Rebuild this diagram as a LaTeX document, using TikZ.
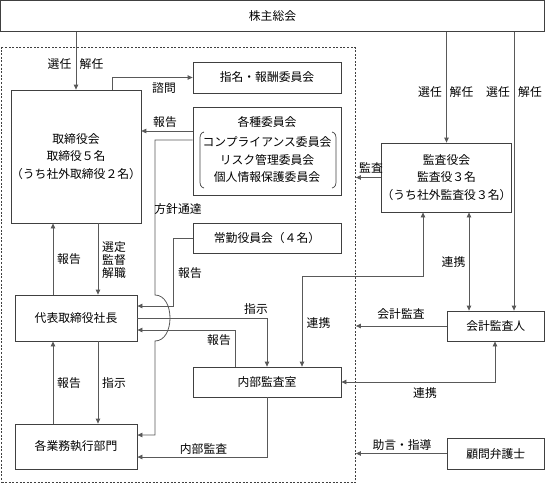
\documentclass[tikz,border=0pt]{standalone}
\usepackage{fontspec}
\setmainfont{Noto Sans CJK JP}
\usetikzlibrary{arrows.meta}
\begin{document}
\begin{tikzpicture}[x=1pt,y=-1pt,
  box/.style={draw=black!75,line width=0.8pt,inner sep=0pt,align=center,font=\fontsize{11.8}{17.5}\selectfont},
  lbl/.style={inner sep=0pt,font=\fontsize{11.8}{14}\selectfont},
  con/.style={draw=black!65,line width=0.8pt},
  tip/.tip={Triangle[length=5pt,width=4.5pt]},
  arr/.style={con,-tip},
  darr/.style={con,tip-tip}]
\useasboundingbox (0,0) rectangle (545,485);
% dashed board region
\node[draw=black!75,line width=0.8pt,dash pattern=on 2pt off 1.6pt,minimum width=354pt,minimum height=435pt,inner sep=0pt] (board) at (178.5,265.3) {};
% boxes
\node[box,minimum width=543.5pt,minimum height=31pt] (kabu) at (272.5,16) {株主総会};
\node[box,minimum width=122pt,minimum height=133pt] (tori) at (76,156.5) {取締役会\\取締役５名\\（うち社外取締役２名）};
\node[box,minimum width=148pt,minimum height=31pt] (shimei) at (267,77.5) {指名・報酬委員会};
\node[box,minimum width=148pt,minimum height=88pt] (kakushu) at (267,151) {};
\node[lbl] (kakushuT) at (267,122) {各種委員会};
\node[lbl] (comp) at (267,142) {コンプライアンス委員会};
\node[lbl] (risk) at (267,160) {リスク管理委員会};
\node[lbl] (kojin) at (267,177.5) {個人情報保護委員会};
\draw[draw=black!75,line width=0.7pt] (204,132) .. controls (200,133) and (200,136) .. (200,140) -- (200,180) .. controls (200,184) and (200,187) .. (204,188);
\draw[draw=black!75,line width=0.7pt] (332,132) .. controls (336,133) and (336,136) .. (336,140) -- (336,180) .. controls (336,184) and (336,187) .. (332,188);
\node[box,minimum width=148pt,minimum height=30pt] (jokin) at (267,238) {常勤役員会（４名）};
\node[box,minimum width=122pt,minimum height=46pt] (daihyo) at (76,318) {代表取締役社長};
\node[box,minimum width=148pt,minimum height=30pt] (naibu) at (267,382) {内部監査室};
\node[box,minimum width=122pt,minimum height=45pt] (gyomu) at (76,446.5) {各業務執行部門};
\node[box,minimum width=121pt,minimum height=69pt] (kansa) at (446.5,177.5) {監査役会\\監査役３名\\（うち社外監査役３名）};
\node[box,minimum width=97.5pt,minimum height=30pt] (kaikei) at (495.75,326) {会計監査人};
\node[box,minimum width=97.5pt,minimum height=31pt] (komon) at (495.75,453.5) {顧問弁護士};
% connectors
\draw[arr] (kabu.south -| tori.north) -- (tori.north);
\draw[arr] ([xshift=36pt]tori.north) |- (shimei.west);
\draw[arr] (kakushu.west |- 0,131) -- (tori.east |- 0,131);
\draw[arr] (kakushu.west |- 0,140) -- (155,140) -- (155,295) .. controls (175,295) and (175,341) .. (155,341) -- (155,435) -- (gyomu.east |- 0,435);
\draw[arr] (jokin.west) -- (173,238) -- (173,306) -- (daihyo.east |- 0,306);
\draw[arr] (daihyo.north -| 53,0) -- (tori.south -| 53,0);
\draw[arr] (tori.south -| 98,0) -- (daihyo.north -| 98,0);
\draw[arr] (gyomu.north -| 53,0) -- (daihyo.south -| 53,0);
\draw[arr] (daihyo.south -| 98,0) -- (gyomu.north -| 98,0);
\draw[arr] (daihyo.east |- 0,318) -| (naibu.north);
\draw[arr] (naibu.north -| 235,0) |- (daihyo.east |- 0,330);
\draw[darr] (naibu.north -| 302,0) |- (423,276) -- (kansa.south -| 423,0);
\draw[arr] (naibu.south) |- (gyomu.east |- 0,457);
\draw[arr] (kabu.south -| kansa.north) -- (kansa.north);
\draw[arr] (kabu.south -| 514,0) -- (kaikei.north -| 514,0);
\draw[arr] (kansa.west) -- (kansa.west -| board.east);
\draw[darr] (kansa.south -| 469,0) -- (kaikei.north -| 469,0);
\draw[arr] (kaikei.west) -- (kaikei.west -| board.east);
\draw[darr] (kaikei.south -| 495,0) |- (naibu.east);
\draw[arr] (komon.west) -- (komon.west -| board.east);
% labels
\node[lbl] (l1) at (59.5,64) {選任};
\node[lbl] (l2) at (91.5,64) {解任};
\node[lbl] (l3) at (164,88.5) {諮問};
\node[lbl] (l4) at (165,122) {報告};
\node[lbl] (l5) at (178,209) {方針通達};
\node[lbl] (l6) at (190,273) {報告};
\node[lbl] (l7) at (69,259) {報告};
\node[lbl,align=center,font=\fontsize{11.8}{13}\selectfont] (l8) at (114,260) {選定\\監督\\解職};
\node[lbl] (l9) at (256,309) {指示};
\node[lbl] (l10) at (219,340) {報告};
\node[lbl] (l11) at (318.5,323) {連携};
\node[lbl] (l12) at (203.5,449) {内部監査};
\node[lbl] (l13) at (69,383) {報告};
\node[lbl] (l14) at (114,383) {指示};
\node[lbl] (l15) at (430,92) {選任};
\node[lbl] (l16) at (461.5,92) {解任};
\node[lbl] (l17) at (498,92) {選任};
\node[lbl] (l18) at (530,92) {解任};
\node[lbl] (l19) at (371,168) {監査};
\node[lbl] (l20) at (453.5,262) {連携};
\node[lbl] (l21) at (401,314) {会計監査};
\node[lbl] (l22) at (425,393) {連携};
\node[lbl] (l23) at (402,445) {助言・指導};
\end{tikzpicture}
\end{document}
